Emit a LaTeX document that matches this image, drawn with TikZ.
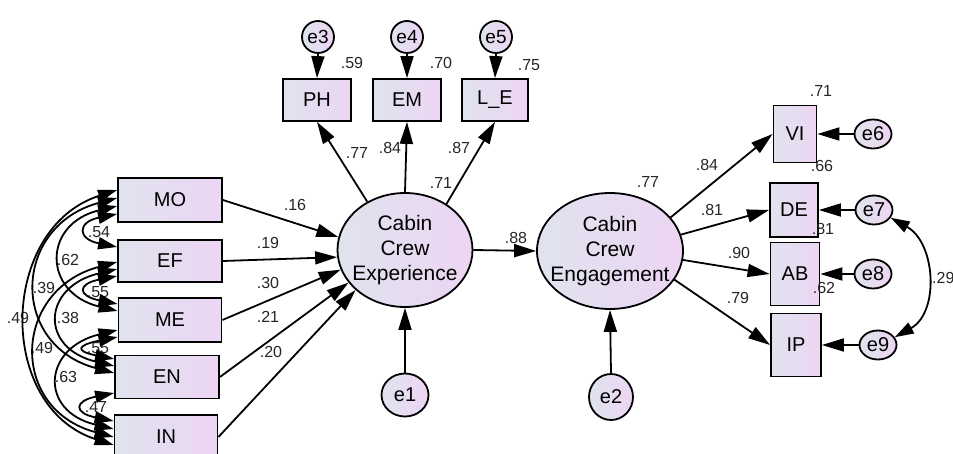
\documentclass[tikz,border=0pt]{standalone}
\usepackage{fontspec}
\setmainfont{Liberation Sans}
\usetikzlibrary{arrows.meta,shapes.geometric}
\definecolor{fillL}{RGB}{223,227,238}
\definecolor{fillR}{RGB}{237,213,243}
\tikzset{
  obs/.style={draw, line width=1.8pt, left color=fillL, right color=fillR, inner sep=0pt, font=\fontsize{20}{22}\selectfont},
  lat/.style={ellipse, draw, line width=1.8pt, left color=fillL, right color=fillR, inner xsep=-14pt, inner ysep=0pt, align=center, font=\fontsize{21}{25}\selectfont},
  err/.style={ellipse, draw, line width=1.8pt, left color=fillL, right color=fillR, inner sep=0pt, font=\fontsize{20}{22}\selectfont},
  arr/.style={line width=1.8pt, -{Triangle[length=22pt,width=13pt]}},
  cov/.style={line width=1.8pt, {Triangle[length=19pt,width=12pt]}-{Triangle[length=19pt,width=12pt]}},
  lab/.style={font=\fontsize{16}{18}\selectfont, inner sep=0pt, text=black!85},
}
\newcommand{\cvarc}[6]{\draw[cov] ([yshift=#2]#1.west) .. controls +(-#5,#6) and +(-#5,-#6) .. ([yshift=#4]#3.west);}
\begin{document}
\begin{tikzpicture}[x=1pt,y=-1pt]
\useasboundingbox (0,0) rectangle (953,454);
% left labels of covariances (drawn first)
\node[lab] (c1) at (99,232) {.54};
\node[lab] (c2) at (98,292) {.55};
\node[lab] (c3) at (98,348) {.55};
\node[lab] (c4) at (96,407) {.47};
\node[lab] (c5) at (68,260) {.62};
\node[lab] (c6) at (68,318) {.38};
\node[lab] (c7) at (66,377) {.63};
\node[lab] (c8) at (44,288) {.39};
\node[lab] (c9) at (42,348) {.49};
\node[lab] (c10) at (18,318) {.49};
% exogenous boxes
\node[obs, minimum width=104pt, minimum height=44pt] (MO) at (170,200) {MO};
\node[obs, minimum width=104pt, minimum height=42pt] (EF) at (170,261) {EF};
\node[obs, minimum width=103pt, minimum height=44pt] (ME) at (170,320) {ME};
\node[obs, minimum width=104pt, minimum height=43pt] (EN) at (167,377) {EN};
\node[obs, minimum width=103pt, minimum height=44pt] (IN) at (166,437) {IN};
% latent
\node[lat, minimum width=135pt, minimum height=114pt] (Exp) at (405,250) {Cabin\\Crew\\Experience};
\node[lat, minimum width=146pt, minimum height=116pt] (Eng) at (610,251) {Cabin\\Crew\\Engagement};
\node[err, minimum width=47pt, minimum height=43pt] (e1) at (405,395) {e1};
\node[err, minimum width=44pt, minimum height=46pt] (e2) at (611,397) {e2};
% top indicators
\node[obs, minimum width=68pt, minimum height=42pt] (PH) at (317,100) {PH};
\node[obs, minimum width=68pt, minimum height=42pt] (EM) at (407,100) {EM};
\node[obs, minimum width=66pt, minimum height=42pt] (LE) at (495,100) {L\_E};
\node[err, minimum width=32pt, minimum height=32pt, font=\fontsize{19}{21}\selectfont] (e3) at (318,37) {e3};
\node[err, minimum width=32pt, minimum height=32pt, font=\fontsize{19}{21}\selectfont] (e4) at (407,37) {e4};
\node[err, minimum width=32pt, minimum height=32pt, font=\fontsize{19}{21}\selectfont] (e5) at (496,37) {e5};
% right indicators
\node[obs, minimum width=43pt, minimum height=57pt] (VI) at (795,134) {VI};
\node[obs, minimum width=48pt, minimum height=54pt] (DE) at (794,210) {DE};
\node[obs, minimum width=49pt, minimum height=63pt] (AB) at (795,274) {AB};
\node[obs, minimum width=50pt, minimum height=63pt] (IP) at (796,345) {IP};
\node[err, minimum width=37pt, minimum height=29pt] (e6) at (873,134) {e6};
\node[err, minimum width=37pt, minimum height=29pt] (e7) at (874,210) {e7};
\node[err, minimum width=37pt, minimum height=29pt] (e8) at (873,274) {e8};
\node[err, minimum width=37pt, minimum height=29pt] (e9) at (878,345) {e9};
% covariance arcs
\cvarc{MO}{-14pt}{EF}{14pt}{40}{8}
\cvarc{MO}{-6pt}{ME}{9pt}{75}{18}
\cvarc{MO}{2pt}{EN}{4pt}{105}{28}
\cvarc{MO}{10pt}{IN}{-8pt}{118}{38}
\cvarc{EF}{-15pt}{ME}{16pt}{40}{8}
\cvarc{EF}{-8pt}{EN}{11pt}{75}{18}
\cvarc{EF}{-1pt}{IN}{0pt}{105}{28}
\cvarc{ME}{-17pt}{EN}{18pt}{40}{8}
\cvarc{ME}{-10pt}{IN}{8pt}{75}{18}
\cvarc{EN}{-16pt}{IN}{16pt}{40}{8}
% regression paths
\draw[arr] (MO.east) -- (Exp.169);
\draw[arr] (EF.east) -- (Exp.186);
\draw[arr] (ME.east) -- (Exp.197);
\draw[arr] (EN.east) -- (Exp.210);
\draw[arr] (IN.east) -- (Exp.219);
\draw[arr] (Exp.east) -- (Eng.west);
\draw[arr] (e1.north) -- (Exp.south);
\draw[arr] (e2.north) -- (Eng.south);
\draw[arr] (Exp.128) -- (PH.south);
\draw[arr] (Exp.90) -- (EM.south);
\draw[arr] (Exp.48) -- (LE.south);
\draw[arr] (e3.south) -- (PH.north);
\draw[arr] (e4.south) -- (EM.north);
\draw[arr] (e5.south) -- (LE.north);
\draw[arr] (Eng.29) -- (VI.west);
\draw[arr] (Eng.13) -- (DE.west);
\draw[arr] (Eng.-7) -- (AB.west);
\draw[arr] (Eng.-24) -- (IP.west);
\draw[arr] (e6.west) -- (VI.east);
\draw[arr] (e7.west) -- (DE.east);
\draw[arr] (e8.west) -- (AB.east);
\draw[arr] (e9.west) -- (IP.east);
\draw[cov] (e7.-25) .. controls +(45,25) and +(45,-25) .. (e9.25);
% labels
\node[lab] (l16) at (295,205) {.16};
\node[lab] (l19) at (268,243) {.19};
\node[lab] (l30) at (268,283) {.30};
\node[lab] (l21) at (268,317) {.21};
\node[lab] (l20) at (271,352) {.20};
\node[lab] (l77a) at (357,153) {.77};
\node[lab] (l84a) at (390,148) {.84};
\node[lab] (l87) at (459,148) {.87};
\node[lab] (l71a) at (441,183) {.71};
\node[lab] (l59) at (352,63) {.59};
\node[lab] (l70) at (441,63) {.70};
\node[lab] (l75) at (529,65) {.75};
\node[lab] (l88) at (516,238) {.88};
\node[lab] (l77b) at (648,182) {.77};
\node[lab] (l84b) at (707,165) {.84};
\node[lab] (l81a) at (712,210) {.81};
\node[lab] (l90) at (739,253) {.90};
\node[lab] (l79) at (738,298) {.79};
\node[lab] (l71b) at (821,91) {.71};
\node[lab] (l66) at (822,166) {.66};
\node[lab] (l81b) at (823,229) {.81};
\node[lab] (l62) at (824,288) {.62};
\node[lab, anchor=west] (l29) at (932,278) {.29};
\end{tikzpicture}
\end{document}
